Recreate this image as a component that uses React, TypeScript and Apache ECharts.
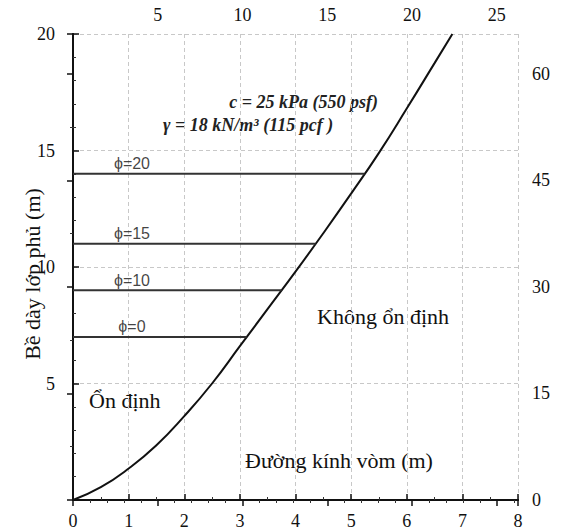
import React, { useEffect, useRef } from "react";
import * as echarts from "echarts";

const curveX = [0, 0.5, 1, 1.5, 2, 2.5, 3, 3.5, 4, 4.5, 5, 5.5, 6, 6.5, 6.82];
const curveY = [0, 0.55, 1.35, 2.35, 3.6, 5.0, 6.6, 8.2, 9.8, 11.45, 13.15, 14.9, 16.8, 18.75, 20.0];

const phiNames = ["ϕ=0", "ϕ=10", "ϕ=15", "ϕ=20"];
const phiDepth = [7, 9, 11, 14];
const phiEndX = [3.12, 3.75, 4.36, 5.24];
const phiLabelX = 1.06;

const xTicksMax = 8;
const yTicksMax = 20;
const topFtMax = 26.25;
const rightFtMax = 65.62;

const SERIF = "Liberation Serif";
const SANS = "Liberation Sans";

export default function App() {
  const ref = useRef<HTMLDivElement>(null);
  useEffect(() => {
    if (!ref.current) return;
    const chart = echarts.init(ref.current, undefined, { renderer: "svg" });
    const axisLine = { show: true, lineStyle: { color: "#111", width: 2 } };
    const tick = { show: true, inside: true, length: 6, lineStyle: { color: "#111", width: 1.5 } };
    const minor = (n: number) => ({ show: true, splitNumber: n, length: 3, lineStyle: { color: "#333", width: 1 } });
    const lbl = { color: "#111", fontFamily: SERIF, fontSize: 18 };
    const grid = { show: true, lineStyle: { color: "#c8c8c8", type: [4, 3], width: 1 } };

    const series: any[] = [
      {
        type: "line",
        data: curveX.map((x, i) => [x, curveY[i]]),
        smooth: true,
        symbol: "none",
        lineStyle: { color: "#111", width: 2 },
        xAxisIndex: 0,
        yAxisIndex: 0,
      },
    ];
    phiNames.forEach((n, i) => {
      series.push({
        type: "line",
        data: [[0, phiDepth[i]], [phiEndX[i], phiDepth[i]]],
        symbol: "none",
        lineStyle: { color: "#333", width: 2 },
        xAxisIndex: 0,
        yAxisIndex: 0,
      });
    });
    series.push({
      type: "scatter",
      symbolSize: 0,
      data: phiNames.map((n, i) => ({ value: [phiLabelX, phiDepth[i]], name: n })),
      label: {
        show: true,
        position: "top",
        distance: 2,
        formatter: (p: any) => p.name,
        color: "#111",
        fontFamily: SANS,
        fontSize: 16,
      },
      xAxisIndex: 0,
      yAxisIndex: 0,
    });

    chart.setOption({
      animation: false,
      backgroundColor: "#fff",
      grid: { left: 73, right: 45, top: 34, bottom: 32 },
      xAxis: [
        {
          type: "value",
          position: "bottom",
          min: 0,
          max: xTicksMax,
          interval: 1,
          axisLine,
          axisTick: tick,
          minorTick: minor(2),
          axisLabel: { ...lbl, margin: 12 },
          splitLine: grid,
        },
        {
          type: "value",
          position: "top",
          min: 0,
          max: topFtMax,
          interval: 5,
          axisLine,
          axisTick: tick,
          minorTick: minor(5),
          axisLabel: { ...lbl, margin: 10, showMinLabel: false, showMaxLabel: false },
          splitLine: { show: false },
        },
      ],
      yAxis: [
        {
          type: "value",
          position: "left",
          min: 0,
          max: yTicksMax,
          interval: 5,
          axisLine,
          axisTick: tick,
          minorTick: minor(5),
          axisLabel: { ...lbl, margin: 18, showMinLabel: false },
          splitLine: grid,
        },
        {
          type: "value",
          position: "right",
          min: 0,
          max: rightFtMax,
          interval: 15,
          axisLine,
          axisTick: tick,
          minorTick: minor(2),
          axisLabel: { ...lbl, margin: 14, showMaxLabel: false },
          splitLine: { show: false },
        },
      ],
      graphic: [
        {
          type: "text",
          x: 32,
          y: 274,
          rotation: Math.PI / 2,
          style: { text: "Bề dày lớp phủ (m)", fontFamily: SERIF, fontSize: 22, fill: "#111", textAlign: "center", textVerticalAlign: "middle" },
        },
        {
          type: "text",
          right: 563 - 378,
          top: 93,
          style: { text: "c = 25 kPa (550 psf)", fontFamily: SERIF, fontStyle: "italic", fontWeight: "bold", fontSize: 18, fill: "#222" },
        },
        {
          type: "text",
          left: 163,
          top: 116,
          style: { text: "γ = 18 kN/m³ (115 pcf )", fontFamily: SERIF, fontStyle: "italic", fontWeight: "bold", fontSize: 18, fill: "#222" },
        },
        {
          type: "text",
          left: 89,
          top: 389,
          style: { text: "Ổn định", fontFamily: SERIF, fontSize: 22, fill: "#111" },
        },
        {
          type: "text",
          left: 317,
          top: 305,
          style: { text: "Không ổn định", fontFamily: SERIF, fontSize: 22, fill: "#111" },
        },
        {
          type: "text",
          left: 245,
          top: 449,
          style: { text: "Đường kính vòm (m)", fontFamily: SERIF, fontSize: 22, fill: "#111" },
        },
      ],
      series,
    });
    return () => chart.dispose();
  }, []);
  return <div ref={ref} style={{ position: "fixed", left: 0, top: 0, width: 563, height: 532 }} />;
}
